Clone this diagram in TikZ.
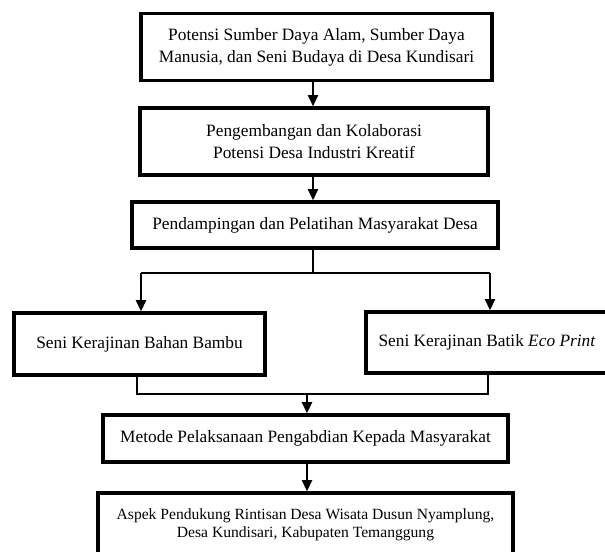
\documentclass[tikz,border=0pt]{standalone}
\usepackage{fontspec}
\setmainfont{Liberation Serif}
\usetikzlibrary{arrows.meta}
\begin{document}
\begin{tikzpicture}[x=0.75pt,y=-0.75pt,
  box/.style={draw=black,line width=2.4pt,fill=white,inner sep=0pt,align=center,
    font=\fontsize{13}{16.5}\selectfont},
  conn/.style={line width=1.7pt},
  arr/.style={conn,-{Triangle[length=8.5pt,width=7.5pt]}}]
\useasboundingbox (0,0) rectangle (605,551);
\node[box,minimum width=351*0.75pt,minimum height=67*0.75pt] (b1) at (316.5,47)
  {Potensi Sumber Daya Alam, Sumber Daya\\Manusia, dan Seni Budaya di Desa Kundisari};
\node[box,minimum width=348*0.75pt,minimum height=67*0.75pt] (b2) at (314,141.5)
  {Pengembangan dan Kolaborasi\\Potensi Desa Industri Kreatif};
\node[box,minimum width=366*0.75pt,minimum height=46*0.75pt] (b3) at (315,225)
  {Pendampingan dan Pelatihan Masyarakat Desa};
\node[box,minimum width=251*0.75pt,minimum height=62*0.75pt] (b4) at (139.5,344)
  {Seni Kerajinan Bahan Bambu};
\node[box,minimum width=242*0.75pt,minimum height=61*0.75pt] (b5) at (487,342.5)
  {Seni Kerajinan Batik \textit{Eco Print}};
\node[box,minimum width=405*0.75pt,minimum height=47*0.75pt] (b6) at (305.5,438.5)
  {Metode Pelaksanaan Pengabdian Kepada Masyarakat};
\node[box,minimum width=415*0.75pt,minimum height=64*0.75pt,
  font=\fontsize{11.7}{13.8}\selectfont] (b7) at (305.5,525)
  {Aspek Pendukung Rintisan Desa Wisata Dusun Nyamplung,\\Desa Kundisari, Kabupaten Temanggung};
\coordinate (j1) at (313,273);
\coordinate (j2) at (307,394);
\coordinate (l1) at (141,273);
\coordinate (r1) at (490,273);
\coordinate (l2) at (137,394);
\coordinate (r2) at (488,394);
\draw[arr] (b1.south -| j1) -- (j1 |- b2.north);
\draw[arr] (b2.south -| j1) -- (j1 |- b3.north);
\draw[conn] (b3.south -| j1) -- (j1);
\draw[conn] (l1) -- (r1);
\draw[arr] (l1) -- (l1 |- b4.north);
\draw[arr] (r1) -- (r1 |- b5.north);
\draw[conn] (l2 |- b4.south) -- (l2) -- (r2) -- (r2 |- b5.south);
\draw[arr] (j2) -- (j2 |- b6.north);
\draw[arr] (b6.south -| j2) -- (j2 |- b7.north);
\end{tikzpicture}
\end{document}
